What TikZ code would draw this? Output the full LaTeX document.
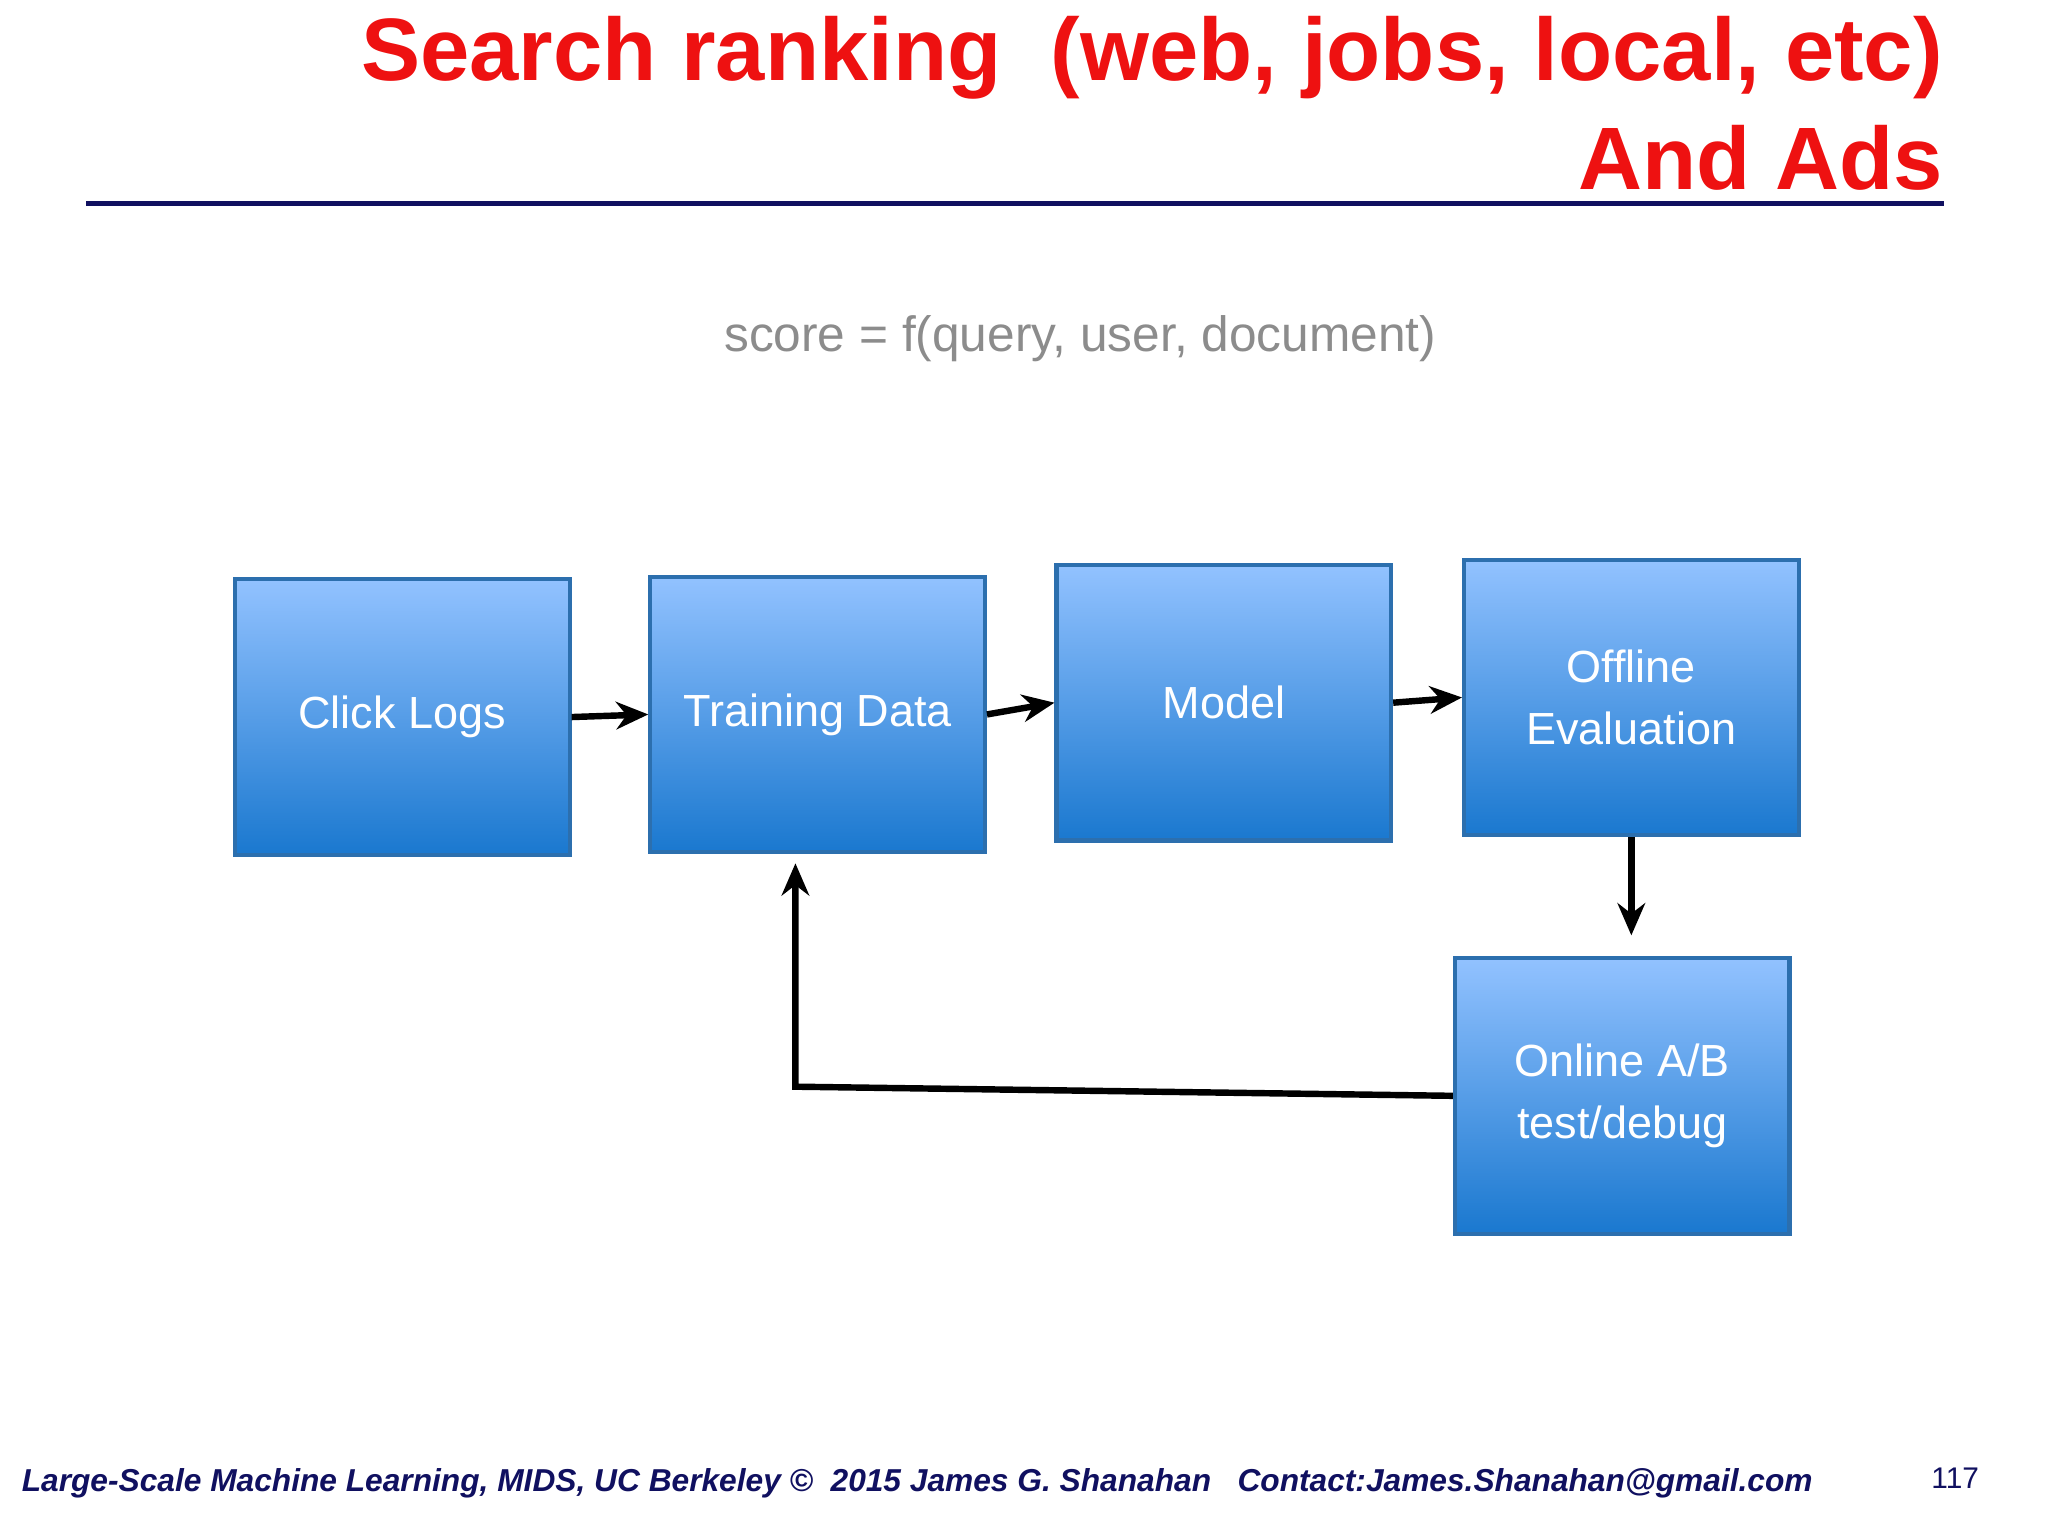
\documentclass[tikz,border=0pt]{standalone}
\usepackage{fontspec}
\setmainfont{Liberation Sans}
\usetikzlibrary{arrows.meta}
\definecolor{titlered}{HTML}{EE1111}
\definecolor{navy}{HTML}{101060}
\definecolor{btop}{HTML}{92C2FF}
\definecolor{bbot}{HTML}{1A78CF}
\definecolor{bedge}{HTML}{2C6FAE}
\tikzset{
  box/.style={draw=bedge, line width=0.9pt, top color=btop, bottom color=bbot, minimum width=2.56cm, minimum height=2.11cm, text=white, align=center, font=\fontsize{9.8}{13.5}\selectfont, inner sep=0pt},
  arr/.style={-{Stealth[length=7pt,width=6pt]}, line width=1.4pt, black}
}
\begin{document}
\begin{tikzpicture}[x=0.01cm,y=-0.01cm]
\useasboundingbox (0,0) rectangle (1568,1176);
\fill[white] (0,0) rectangle (1568,1176);
\node[anchor=base east, text=titlered, font=\bfseries\fontsize{19.3}{23}\selectfont, inner sep=0pt] (t1) at (1488,62) {Search ranking\ \ (web, jobs, local, etc)};
\node[anchor=base east, text=titlered, font=\bfseries\fontsize{19.3}{23}\selectfont, inner sep=0pt] (t2) at (1488,145) {And Ads};
\draw[navy, line width=1.1pt] (66,156) -- (1488,156);
\node[text=gray!90, font=\fontsize{10.8}{13}\selectfont] (score) at (827,259) {score = f(query, user, document)};
\node[box] (click) at (308,549) {Click Logs};
\node[box] (train) at (626,547) {Training Data};
\node[box] (model) at (937,538) {Model};
\node[box] (off) at (1249,534) {Offline\\Evaluation};
\node[box] (online) at (1242,839) {Online A/B\\test/debug};
\draw[arr] (click.east) -- (train.west);
\draw[arr] (train.east) -- (model.west);
\draw[arr] (model.east) -- (off.west);
\draw[arr] (off.south) -- ++(0,75);
\draw[arr] (online.west) -- (609,832) -- (609,661);
\node[anchor=base west, text=navy, font=\bfseries\itshape\fontsize{6.9}{9}\selectfont, inner sep=0pt] (foot) at (16,1142) {Large-Scale Machine Learning, MIDS, UC Berkeley ©\ \ 2015 James G. Shanahan\ \ \ Contact:James.Shanahan@gmail.com};
\node[anchor=base, text=navy, font=\fontsize{6.5}{8}\selectfont, inner sep=0pt] (pg) at (1497,1140) {117};
\end{tikzpicture}
\end{document}
